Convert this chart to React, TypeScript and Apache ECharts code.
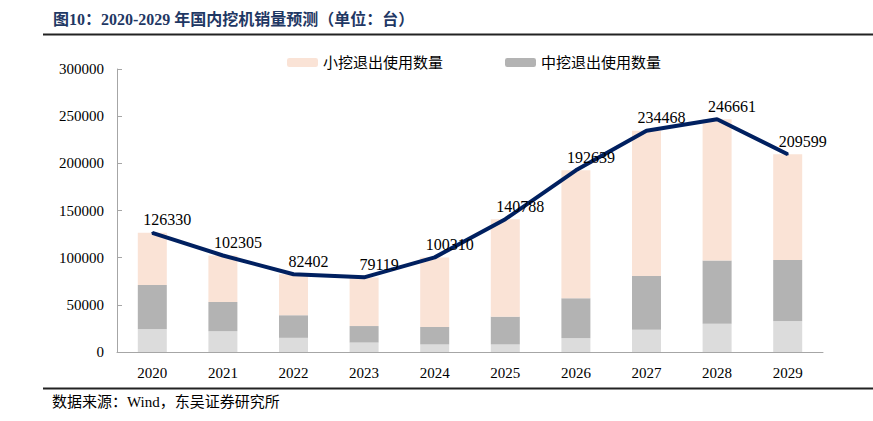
import React, { useEffect, useRef } from "react";
import * as echarts from "echarts";

const years = ["2020", "2021", "2022", "2023", "2024", "2025", "2026", "2027", "2028", "2029"];
const largeRetired = [24000, 22000, 15000, 10000, 8000, 8000, 14500, 23500, 30000, 32500];
const midRetired = [47000, 31000, 24000, 17500, 18500, 29500, 42500, 57000, 67000, 65000];
const smallRetired = [55300, 49300, 43400, 51600, 73800, 103300, 135600, 154000, 149700, 112100];
const sales = [126330, 102305, 82402, 79119, 100310, 140788, 192639, 234468, 246661, 209599];

const SERIF = "'Liberation Serif', 'Times New Roman', 'Noto Sans CJK SC', serif";

export default function App() {
  const ref = useRef<HTMLDivElement>(null);
  useEffect(() => {
    document.body.style.margin = "0";
    const chart = echarts.init(ref.current!, null, { renderer: "svg" });
    chart.setOption({
      animation: false,
      backgroundColor: "#ffffff",
      grid: { left: 117, right: 50, top: 69, bottom: 69 },
      legend: {
        data: ["小挖退出使用数量", "中挖退出使用数量"],
        left: 282,
        top: 50,
        itemWidth: 31,
        itemHeight: 9,
        itemGap: 62,
        textStyle: { fontFamily: SERIF, fontSize: 15, color: "#000" },
      },
      xAxis: {
        type: "category",
        data: years,
        axisLine: { lineStyle: { color: "#a6a6a6", width: 1 } },
        axisTick: { inside: true, length: 5, lineStyle: { color: "#a6a6a6" } },
        axisLabel: { margin: 13, fontFamily: SERIF, fontSize: 15, color: "#000" },
      },
      yAxis: {
        type: "value",
        min: 0,
        max: 300000,
        interval: 50000,
        splitLine: { show: false },
        axisLine: { show: true, lineStyle: { color: "#a6a6a6", width: 1 } },
        axisTick: { show: true, inside: true, length: 5, lineStyle: { color: "#a6a6a6" } },
        axisLabel: {
          margin: 13,
          fontFamily: SERIF,
          fontSize: 15,
          color: "#000",
          formatter: (v: number) => String(v),
        },
      },
      series: [
        {
          name: "大挖退出使用数量",
          type: "bar",
          stack: "s",
          barWidth: 29,
          data: largeRetired,
          itemStyle: { color: "#dcdcdc" },
        },
        {
          name: "中挖退出使用数量",
          type: "bar",
          stack: "s",
          barWidth: 29,
          data: midRetired,
          itemStyle: { color: "#b3b3b3" },
        },
        {
          name: "小挖退出使用数量",
          type: "bar",
          stack: "s",
          barWidth: 29,
          data: smallRetired,
          itemStyle: { color: "#fae3d6" },
        },
        {
          name: "国内挖机销量",
          type: "line",
          data: sales,
          symbol: "circle",
          symbolSize: 2,
          showSymbol: true,
          showAllSymbol: true,
          itemStyle: { color: "#002060" },
          z: 5,
          lineStyle: { color: "#002060", width: 4 },
          label: {
            show: true,
            position: "top",
            distance: 4,
            offset: [15, 0],
            fontFamily: SERIF,
            fontSize: 16,
            color: "#000",
          },
        },
      ],
      graphic: [
        {
          type: "text",
          left: 53,
          top: 11,
          style: {
            text: "图10：2020-2029 年国内挖机销量预测（单位：台）",
            fontFamily: SERIF,
            fontWeight: "bold",
            fontSize: 16,
            fill: "#1f3864",
          },
        },
        {
          type: "line",
          shape: { x1: 43, y1: 34.5, x2: 873, y2: 34.5 },
          style: { stroke: "#222", lineWidth: 2 },
        },
        {
          type: "line",
          shape: { x1: 43, y1: 388.5, x2: 873, y2: 388.5 },
          style: { stroke: "#222", lineWidth: 2 },
        },
        {
          type: "text",
          left: 52,
          top: 394,
          style: {
            text: "数据来源：Wind，东吴证券研究所",
            fontFamily: SERIF,
            fontSize: 15,
            fill: "#000",
          },
        },
      ],
    });
    return () => chart.dispose();
  }, []);
  return <div ref={ref} style={{ position: "absolute", left: 0, top: 0, width: 873, height: 421 }} />;
}
